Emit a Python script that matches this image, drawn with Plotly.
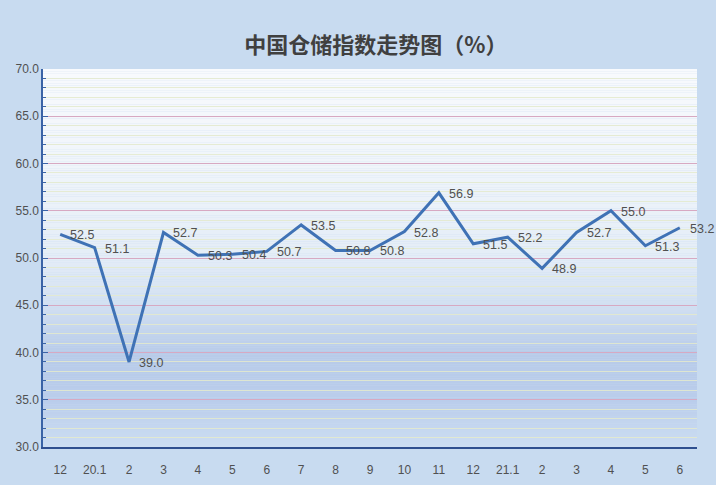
import plotly.graph_objects as go

categories = ["12", "20.1", "2", "3", "4", "5", "6", "7", "8", "9", "10", "11", "12", "21.1", "2", "3", "4", "5", "6"]
values = [52.5, 51.1, 39.0, 52.7, 50.3, 50.4, 50.7, 53.5, 50.8, 50.8, 52.8, 56.9, 51.5, 52.2, 48.9, 52.7, 55.0, 51.3, 53.2]
labels = [f"{v:.1f}" for v in values]
x_idx = list(range(len(categories)))

fig = go.Figure()

# background gradient stripes (style only)
stops = [(70, (248, 250, 253)), (60, (240, 245, 250)), (50, (228, 237, 247)),
         (45, (210, 224, 242)), (40, (184, 203, 233)), (35, (186, 205, 235)), (30, (204, 221, 242))]
def col(y):
    for (y0, c0), (y1, c1) in zip(stops[:-1], stops[1:]):
        if y1 <= y <= y0:
            t = (y0 - y) / (y0 - y1)
            return "rgb(%d,%d,%d)" % tuple(round(a + (b - a) * t) for a, b in zip(c0, c1))
    return "rgb(204,221,242)"
shapes = []
step = 0.25
y = 30.0
while y < 70:
    shapes.append(dict(type="rect", xref="paper", yref="y", x0=0, x1=1, y0=y, y1=y + step,
                       fillcolor=col(y + step / 2), line_width=0, layer="below"))
    y += step

fig.add_trace(go.Scatter(
    x=x_idx, y=values, mode="lines",
    line=dict(color="#3f72b5", width=3), showlegend=False, hoverinfo="skip",
))

annotations = [dict(x=xi, y=v, xref="x", yref="y", text=t, showarrow=False, xanchor="left", yanchor="middle",
                    xshift=8, yshift=-1, font=dict(size=12.5, color="#505050", family="Liberation Sans, Arial"))
               for xi, v, t in zip(x_idx, values, labels)]

fig.update_layout(
    width=716, height=485,
    margin=dict(l=43, r=19, t=69, b=38),
    paper_bgcolor="#c8dbf0",
    plot_bgcolor="rgba(0,0,0,0)",
    shapes=shapes,
    annotations=annotations,
    title=dict(text="<b>中国仓储指数走势图（%）</b>", x=0.525, xanchor="center", y=0.907, yanchor="middle",
               font=dict(size=22, color="#404040", family="Noto Sans CJK SC")),
    xaxis=dict(range=[-0.5, len(categories) - 0.5], tickmode="array", tickvals=x_idx, ticktext=categories,
               showgrid=False, zeroline=False, showline=True, linecolor="#2f4f8f", linewidth=1.5,
               ticks="", tickfont=dict(size=12, color="#505050", family="Liberation Sans, Arial"),
               ticklabelstandoff=11, automargin=False),
    yaxis=dict(range=[30, 70], tickmode="linear", tick0=30, dtick=5, tickformat=".1f",
               showgrid=True, gridcolor="#d7a9c2", gridwidth=1, zeroline=False,
               showline=True, linecolor="#3a63a6", linewidth=1.5, ticks="inside", ticklen=5,
               tickcolor="#3a63a6", automargin=False,
               minor=dict(dtick=1, showgrid=True, gridcolor="rgba(228,234,205,0.85)", gridwidth=1,
                          ticks="inside", ticklen=3, tickcolor="#3a63a6"),
               tickfont=dict(size=12, color="#505050", family="Liberation Sans, Arial")),
)

fig.write_html("out.html", config={"displayModeBar": False},
               post_script="document.body.style.margin='0';document.body.style.padding='0';")
